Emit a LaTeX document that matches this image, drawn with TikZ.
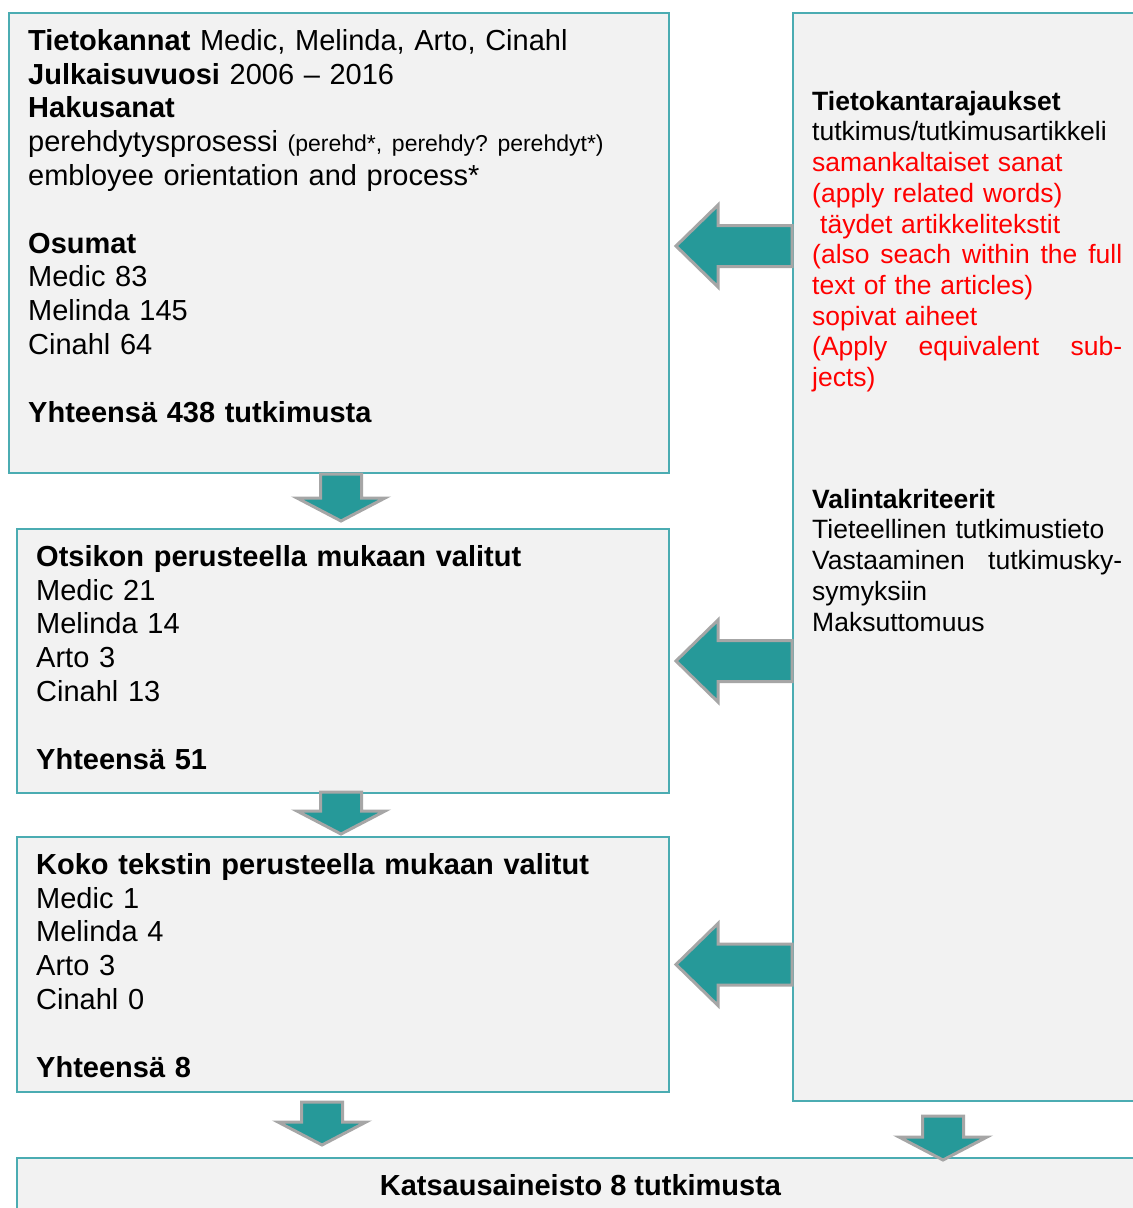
\documentclass[tikz,border=0pt]{standalone}
\usepackage{fontspec}
\setmainfont{Liberation Sans}
\usetikzlibrary{calc}
\definecolor{boxline}{RGB}{75,172,178}
\definecolor{boxfill}{RGB}{242,242,242}
\definecolor{arrowfill}{RGB}{38,153,153}
\definecolor{arrowline}{RGB}{166,166,166}
\newcommand{\bigtext}{\fontsize{29}{33.8}\selectfont}
\newcommand{\sidetext}{\fontsize{26.5}{30.7}\selectfont}
\newcommand{\smalltext}{\fontsize{23}{25}\selectfont}
\frenchspacing
\begin{document}
\begin{tikzpicture}[x=1pt,y=-1pt,
	box/.style={draw=boxline,fill=boxfill,line width=2pt,anchor=north west,inner sep=0pt},
	txt/.style={anchor=north west,inner sep=0pt,align=left,font=\bigtext,text width=620pt},
	blockarrow/.style={draw=arrowline,fill=arrowfill,line width=3pt,line join=miter}]
	\useasboundingbox (0,0) rectangle (1133,1208);
	\clip (0,0) rectangle (1133,1208);
	\fill[white] (0,0) rectangle (1133,1208);
	% boxes
	\node[box,minimum width=660,minimum height=460] (search) at (8,12) {};
	\node[box,minimum width=652,minimum height=264] (title) at (16,528) {};
	\node[box,minimum width=652,minimum height=255] (fulltext) at (16,836) {};
	\node[box,minimum width=400,minimum height=1088] (rules) at (792,12) {};
	\node[box,minimum width=1127,minimum height=100] (result) at (16,1157) {};
	% texts
	\node[txt] (searchtxt) at ($(search.north west)+(20,14)$) {\rule{0pt}{24pt}\textbf{Tietokannat} Medic, Melinda, Arto, Cinahl\\
		\textbf{Julkaisuvuosi} 2006 – 2016\\
		\textbf{Hakusanat}\\
		perehdytysprosessi {\smalltext (perehd*, perehdy? perehdyt*)}\\
		embloyee orientation and process*\\[33.8pt]
		\textbf{Osumat}\\
		Medic 83\\
		Melinda 145\\
		Cinahl 64\\[33.8pt]
		\textbf{Yhteensä 438 tutkimusta}};
	\node[txt] (titletxt) at ($(title.north west)+(20,14)$) {\rule{0pt}{24pt}\textbf{Otsikon perusteella mukaan valitut}\\
		Medic 21\\
		Melinda 14\\
		Arto 3\\
		Cinahl 13\\[33.8pt]
		\textbf{Yhteensä 51}};
	\node[txt] (fulltexttxt) at ($(fulltext.north west)+(20,14)$) {\rule{0pt}{24pt}\textbf{Koko tekstin perusteella mukaan valitut}\\
		Medic 1\\
		Melinda 4\\
		Arto 3\\
		Cinahl 0\\[33.8pt]
		\textbf{Yhteensä 8}};
	\node[txt,font=\sidetext,text width=310pt] (rulestxt) at ($(rules.north west)+(20,76)$) {\rule{0pt}{22pt}\textbf{Tietokantarajaukset}\\
		tutkimus/tutkimusartikkeli\\
		\textcolor{red}{samankaltaiset sanat}\\
		\textcolor{red}{(apply related words)}\\
		\textcolor{red}{\hspace*{8pt}täydet artikkelitekstit}\\
		\textcolor{red}{\makebox[310pt][l]{(also\hfill seach\hfill within\hfill the\hfill full}}\\
		\textcolor{red}{text of the articles)}\\
		\textcolor{red}{sopivat aiheet}\\
		\textcolor{red}{\makebox[310pt][l]{(Apply\hfill equivalent\hfill sub-}}\\
		\textcolor{red}{jects)}\\[91pt]
		\textbf{Valintakriteerit}\\
		Tieteellinen tutkimustieto\\
		\makebox[310pt][l]{Vastaaminen\hfill tutkimusky-}\\
		symyksiin\\
		Maksuttomuus};
	\node[font=\bigtext\bfseries] (resulttxt) at ($(result.north)+(0,28)$) {Katsausaineisto 8 tutkimusta};
	% arrows from the rules
	\foreach \b/\s in {search/3,title/0,fulltext/0}
	{
		\draw[blockarrow] ($(rules.west |- \b.east)+(0,\s-20.5)$) -- ++(-74,0) -- ++(0,-20.5) -- ++(-42,41) -- ++(42,41) -- ++(0,-20.5) -- ++(74,0) -- cycle;
	}
	% arrows down
	\draw[blockarrow] ($(search.south)+(-18.5,0)$) -- ++(41,0) -- ++(0,24) -- ++(23.5,0) -- ++(-44,23) -- ++(-44,-23) -- ++(23.5,0) -- cycle;
	\draw[blockarrow] ($(title.south)+(-22.5,-2)$) -- ++(41,0) -- ++(0,19) -- ++(23.5,0) -- ++(-44,23) -- ++(-44,-23) -- ++(23.5,0) -- cycle;
	\draw[blockarrow] ($(fulltext.south)+(-41.5,9)$) -- ++(41,0) -- ++(0,20) -- ++(23.5,0) -- ++(-44,23) -- ++(-44,-23) -- ++(23.5,0) -- cycle;
	\draw[blockarrow] ($(rules.south west)+(130.5,14)$) -- ++(41,0) -- ++(0,21) -- ++(23.5,0) -- ++(-44,23) -- ++(-44,-23) -- ++(23.5,0) -- cycle;
\end{tikzpicture}
\end{document}
